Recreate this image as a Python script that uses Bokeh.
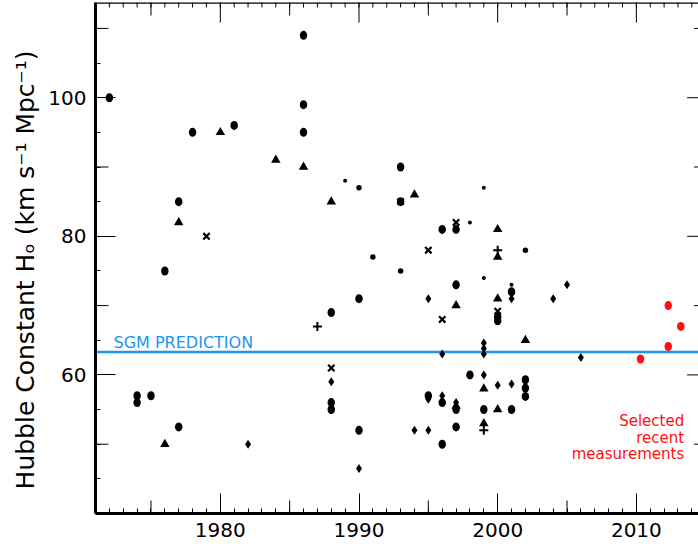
import numpy as np
from bokeh.plotting import figure
from bokeh.models import Range1d, FixedTicker, LinearAxis, Span, Label
from bokeh.embed import file_html
from bokeh.resources import INLINE

FONT = "DejaVu Sans"
BLUE = "#1a96f0"
RED = "#ff1010"

# ---------------- data ----------------
circle_year = [1972, 1974, 1974, 1975, 1976, 1977, 1977, 1978, 1981, 1986,
               1986, 1986, 1988, 1988, 1988, 1990, 1990, 1993, 1993, 1995,
               1996, 1996, 1996, 1997, 1997, 1997, 1997, 1998, 1999, 2000,
               2000, 2001, 2001, 2002, 2002, 2002]
circle_h0 = [100, 57, 56, 57, 75, 85, 52.5, 95, 96, 109,
             99, 95, 69, 56, 55, 71, 52, 90, 85, 57,
             81, 56, 50, 81, 73, 55, 52.5, 60, 55, 68.4,
             67.8, 72, 55, 59.3, 58.1, 56.9]

mdot_year = [1990, 1991, 1993, 2002]
mdot_h0 = [87, 77, 75, 78]

sdot_year = [1989, 1998, 1999, 1999, 2001]
sdot_h0 = [88, 82, 87, 74, 73]

tri_year = [1976, 1977, 1980, 1984, 1986, 1988, 1994, 1997, 1997, 1999,
            1999, 2000, 2000, 2000, 2000, 2002]
tri_h0 = [50, 82, 95, 91, 90, 85, 86, 70, 55.5, 58,
          53, 81, 77, 71, 55, 65]

dia_year = [1982, 1988, 1990, 1994, 1995, 1995, 1995, 1996, 1996, 1997,
            1999, 1999, 1999, 1999, 2000, 2001, 2001, 2004, 2005, 2006]
dia_h0 = [50, 59, 46.5, 52, 71, 56.5, 52, 63, 57, 56,
          64.6, 63.8, 63.0, 60, 58.5, 71, 58.7, 71, 73, 62.5]

x_year = [1979, 1988, 1993, 1995, 1996, 1997, 2000]
x_h0 = [80, 61, 85, 78, 68, 82, 69.2]

plus_year = [1987, 1999, 2000]
plus_h0 = [67, 52, 78]

recent_year = [2010.3, 2012.3, 2012.3, 2013.2]
recent_h0 = [62.3, 70, 64.1, 67]

sgm_h0 = 63.3

x_major = [1980, 1990, 2000, 2010]
x_medium = [1975, 1985, 1995, 2005]
x_minor = list(range(1971, 2016))
y_major = [60, 80, 100]
y_major_labels = {60: "60", 80: "80", 100: "100"}
y_medium = [50, 70, 90, 110]
y_minor = list(range(40, 115, 5))

y_title = "Hubble Constant Hₒ    (km s⁻¹ Mpc⁻¹)"

# ---------------- figure ----------------
X0, X1 = 1971.0, 2014.48
Y0, Y1 = 40.0, 113.74
XR = 2015.1  # position of the (off-window) right axis

p = figure(width=698, height=548, x_range=Range1d(X0, X1), y_range=Range1d(Y0, Y1),
           output_backend="svg", toolbar_location=None,
           x_axis_location=None, y_axis_location=None,
           min_border_left=95, min_border_right=0, min_border_top=2, min_border_bottom=35)
p.xgrid.visible = False
p.ygrid.visible = False
p.outline_line_color = None
p.background_fill_color = "white"
p.border_fill_color = "white"


def style_axis(ax, line_w):
    ax.axis_line_color = "black"
    ax.axis_line_width = line_w
    ax.major_tick_in = 20
    ax.major_tick_out = 0
    ax.minor_tick_in = 5
    ax.minor_tick_out = 0
    ax.major_tick_line_color = "black"
    ax.minor_tick_line_color = "black"
    ax.major_tick_line_width = 1
    ax.minor_tick_line_width = 1
    ax.major_label_text_font = FONT
    ax.major_label_text_font_size = "20px"
    ax.major_label_text_color = "black"


xb = LinearAxis(ticker=FixedTicker(ticks=x_major, minor_ticks=x_minor))
style_axis(xb, 3)
xb.major_label_standoff = 9
p.add_layout(xb, "below")

yl = LinearAxis(ticker=FixedTicker(ticks=y_major, minor_ticks=y_minor),
                major_label_overrides=y_major_labels)
style_axis(yl, 3)
yl.major_label_standoff = 9
yl.axis_label = y_title
yl.axis_label_text_font = FONT
yl.axis_label_text_font_size = "25px"
yl.axis_label_text_font_style = "normal"
yl.axis_label_text_color = "black"
yl.axis_label_standoff = 5
p.add_layout(yl, "left")

# top frame line
p.add_layout(Span(location=Y1, dimension="width", line_color="black", line_width=2.5))

# ticks drawn as dashes (top axis, medium ticks, right axis)
tick_kw = dict(marker="dash", line_color="black", line_width=1)
p.scatter(x=x_major, y=[Y1] * len(x_major), size=40, angle=np.pi / 2, **tick_kw)
p.scatter(x=x_minor, y=[Y1] * len(x_minor), size=10, angle=np.pi / 2, **tick_kw)
p.scatter(x=x_medium, y=[Y1] * len(x_medium), size=26, angle=np.pi / 2, **tick_kw)
p.scatter(x=x_medium, y=[Y0] * len(x_medium), size=26, angle=np.pi / 2, **tick_kw)
p.scatter(x=[X0] * len(y_medium), y=y_medium, size=26, **tick_kw)
p.scatter(x=[XR] * len(y_medium), y=y_medium, size=26, **tick_kw)
p.scatter(x=[XR] * len(y_major), y=y_major, size=40, **tick_kw)

# SGM prediction line
sgm = Span(location=sgm_h0, dimension="width", line_color=BLUE, line_width=2.5, level="underlay")
p.add_layout(sgm)
p.add_layout(Label(x=1972.3, y=63.3, text="SGM   PREDICTION", text_font=FONT,
                   text_font_size="16px", text_color=BLUE, text_baseline="bottom"))

# data points
p.ellipse(x=circle_year, y=circle_h0, width=7.5, height=9, width_units="screen",
          height_units="screen", fill_color="black", line_color=None)
p.scatter(x=mdot_year, y=mdot_h0, marker="circle", size=5.5, fill_color="black", line_color=None)
p.scatter(x=sdot_year, y=sdot_h0, marker="circle", size=4, fill_color="black", line_color=None)
p.scatter(x=tri_year, y=tri_h0, marker="triangle", size=9.5, fill_color="black", line_color=None)
p.scatter(x=dia_year, y=dia_h0, marker="diamond", size=9, fill_color="black", line_color=None)
p.scatter(x=x_year, y=x_h0, marker="x", size=9, line_color="black", line_width=2.2)
p.scatter(x=plus_year, y=plus_h0, marker="cross", size=9, line_color="black", line_width=2)
p.ellipse(x=recent_year, y=recent_h0, width=7.5, height=9, width_units="screen",
          height_units="screen", fill_color=RED, line_color=None)

p.add_layout(Label(x=2013.45, y=54.6, text="Selected\nrecent\nmeasurements", text_font=FONT,
                   text_font_size="15px", text_color=RED, text_align="right",
                   text_baseline="top", text_line_height=0.92))

open("out.html", "w").write(file_html(p, INLINE))
